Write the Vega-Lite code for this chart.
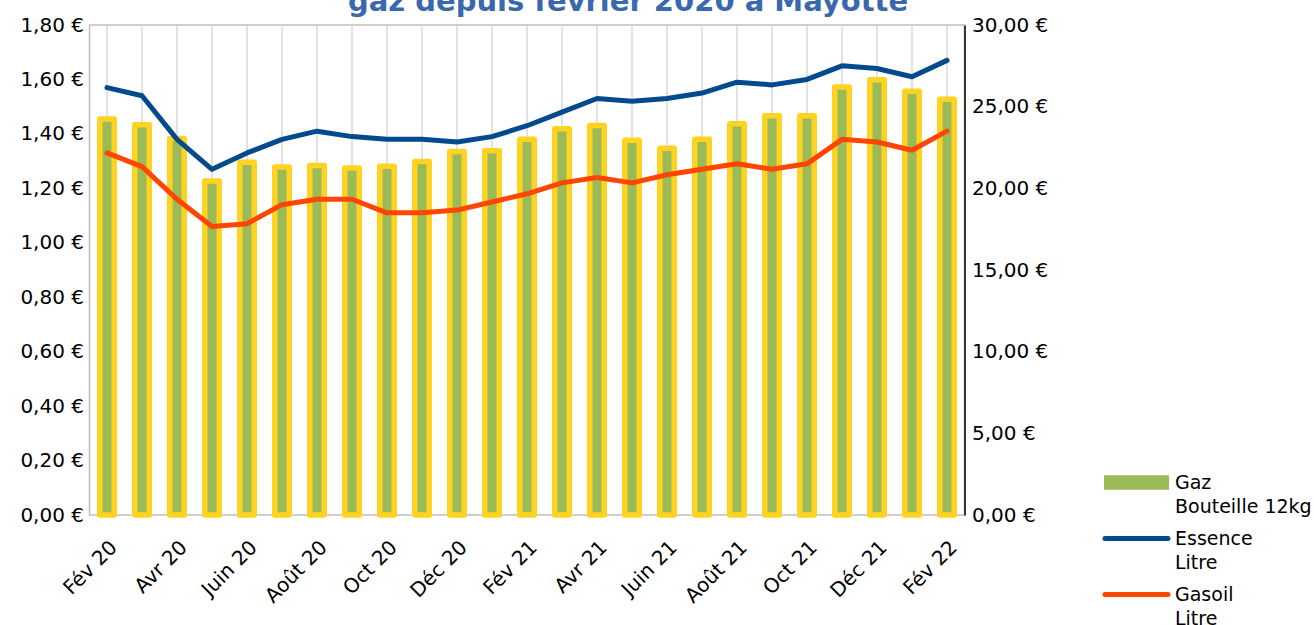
{
  "$schema": "https://vega.github.io/schema/vega-lite/v6.json",
  "width": 875,
  "height": 490,
  "autosize": {"type": "none"},
  "padding": {"left": 89.5, "top": 25, "right": 349.5, "bottom": 110},
  "background": "white",
  "title": {
    "text": "gaz depuis février 2020 à Mayotte",
    "font": "DejaVu Sans",
    "fontSize": 29,
    "fontWeight": "bold",
    "color": "#3A68AE",
    "anchor": "middle",
    "frame": "group",
    "dx": 101,
    "dy": 25,
    "offset": 0,
    "baseline": "alphabetic"
  },
  "config": {
    "view": {"stroke": "#bfbfbf", "strokeWidth": 1.5},
    "font": "DejaVu Sans",
    "axis": {"labelFont": "DejaVu Sans", "labelFontSize": 20, "labelColor": "#000000", "ticks": false, "title": null}
  },
  "data": {
    "values": [
      {"mois": "Fév 20", "Gaz": 24.25, "Essence": 1.57, "Gasoil": 1.33},
      {"mois": "Mars 20", "Gaz": 23.90, "Essence": 1.54, "Gasoil": 1.28},
      {"mois": "Avr 20", "Gaz": 23.05, "Essence": 1.38, "Gasoil": 1.16},
      {"mois": "Mai 20", "Gaz": 20.45, "Essence": 1.27, "Gasoil": 1.06},
      {"mois": "Juin 20", "Gaz": 21.60, "Essence": 1.33, "Gasoil": 1.07},
      {"mois": "Juil 20", "Gaz": 21.30, "Essence": 1.38, "Gasoil": 1.14},
      {"mois": "Août 20", "Gaz": 21.40, "Essence": 1.41, "Gasoil": 1.16},
      {"mois": "Sept 20", "Gaz": 21.25, "Essence": 1.39, "Gasoil": 1.16},
      {"mois": "Oct 20", "Gaz": 21.35, "Essence": 1.38, "Gasoil": 1.11},
      {"mois": "Nov 20", "Gaz": 21.65, "Essence": 1.38, "Gasoil": 1.11},
      {"mois": "Déc 20", "Gaz": 22.25, "Essence": 1.37, "Gasoil": 1.12},
      {"mois": "Janv 21", "Gaz": 22.30, "Essence": 1.39, "Gasoil": 1.15},
      {"mois": "Fév 21", "Gaz": 23.00, "Essence": 1.43, "Gasoil": 1.18},
      {"mois": "Mars 21", "Gaz": 23.65, "Essence": 1.48, "Gasoil": 1.22},
      {"mois": "Avr 21", "Gaz": 23.85, "Essence": 1.53, "Gasoil": 1.24},
      {"mois": "Mai 21", "Gaz": 22.95, "Essence": 1.52, "Gasoil": 1.22},
      {"mois": "Juin 21", "Gaz": 22.45, "Essence": 1.53, "Gasoil": 1.25},
      {"mois": "Juil 21", "Gaz": 23.00, "Essence": 1.55, "Gasoil": 1.27},
      {"mois": "Août 21", "Gaz": 23.95, "Essence": 1.59, "Gasoil": 1.29},
      {"mois": "Sept 21", "Gaz": 24.45, "Essence": 1.58, "Gasoil": 1.27},
      {"mois": "Oct 21", "Gaz": 24.45, "Essence": 1.60, "Gasoil": 1.29},
      {"mois": "Nov 21", "Gaz": 26.20, "Essence": 1.65, "Gasoil": 1.38},
      {"mois": "Déc 21", "Gaz": 26.65, "Essence": 1.64, "Gasoil": 1.37},
      {"mois": "Janv 22", "Gaz": 25.95, "Essence": 1.61, "Gasoil": 1.34},
      {"mois": "Fév 22", "Gaz": 25.45, "Essence": 1.67, "Gasoil": 1.41}
    ]
  },
  "encoding": {
    "x": {
      "field": "mois",
      "type": "nominal",
      "sort": null,
      "scale": {"paddingInner": 0, "paddingOuter": 0},
      "axis": {
        "bandPosition": 0.5,
        "grid": true,
        "gridColor": "#d9d9d9",
        "gridWidth": 1.5,
        "domain": false,
        "labelAngle": -45,
        "labelAlign": "right",
        "labelBaseline": "top",
        "labelPadding": 22,
        "labelOffset": 0,
        "labelExpr": "indexof(['Fév 20','Avr 20','Juin 20','Août 20','Oct 20','Déc 20','Fév 21','Avr 21','Juin 21','Août 21','Oct 21','Déc 21','Fév 22'], datum.value) >= 0 ? datum.value : ''"
      }
    }
  },
  "layer": [
    {
      "mark": {"type": "bar", "width": 14.5, "stroke": "#FFD320", "strokeWidth": 5.5, "strokeJoin": "round"},
      "encoding": {
        "y": {
          "field": "Gaz",
          "type": "quantitative",
          "scale": {"domain": [0, 30], "nice": false},
          "axis": {
            "orient": "right",
            "values": [0, 5, 10, 15, 20, 25, 30],
            "grid": false,
            "domain": true,
            "domainColor": "#000000",
            "domainWidth": 1.5,
            "labelPadding": 7,
            "labelExpr": "replace(format(datum.value, '.2f'), '.', ',') + ' €'"
          }
        },
        "color": {
          "datum": "Gaz",
          "type": "nominal",
          "scale": {"domain": ["Gaz", "Essence", "Gasoil"], "range": ["#9BBB59", "#004A8D", "#FF4500"]},
          "legend": {
            "orient": "none",
            "legendX": 1015.5,
            "legendY": 448,
            "title": null,
            "labelFont": "DejaVu Sans",
            "labelFontSize": 19,
            "labelColor": "#000000",
            "symbolSize": 3969,
            "symbolOffset": 22,
            "labelOffset": 29,
            "rowPadding": 11,
            "labelLimit": 300,
            "labelExpr": "datum.value === 'Gaz' ? ['Gaz', 'Bouteille 12kg'] : [datum.value, 'Litre']",
            "encode": {
              "symbols": {
                "update": {
                  "shape": {"signal": "datum.value === 'Gaz' ? 'M-1,-0.2H1V0.2H-1Z' : 'M-1,0H1'"},
                  "fill": {"signal": "datum.value === 'Gaz' ? '#9BBB59' : 'transparent'"},
                  "stroke": {"signal": "datum.value === 'Gaz' ? '#FFD320' : (datum.value === 'Essence' ? '#004A8D' : '#FF4500')"},
                  "strokeWidth": {"signal": "datum.value === 'Gaz' ? 2 : 5"},
                  "strokeCap": {"value": "round"},
                  "opacity": {"value": 1}
                }
              },
              "labels": {"update": {"lineHeight": {"value": 24}}}
            }
          }
        }
      }
    },
    {
      "transform": [{"fold": ["Essence", "Gasoil"], "as": ["serie", "prix"]}],
      "mark": {"type": "line", "strokeWidth": 5, "strokeJoin": "round", "strokeCap": "round"},
      "encoding": {
        "y": {
          "field": "prix",
          "type": "quantitative",
          "scale": {"domain": [0, 1.8], "nice": false},
          "axis": {
            "orient": "left",
            "values": [0, 0.2, 0.4, 0.6, 0.8, 1.0, 1.2, 1.4, 1.6, 1.8],
            "grid": false,
            "domain": false,
            "labelPadding": 6,
            "labelExpr": "replace(format(datum.value, '.2f'), '.', ',') + ' €'"
          }
        },
        "color": {
          "field": "serie",
          "type": "nominal",
          "legend": {
            "orient": "none",
            "legendX": 1015.5,
            "legendY": 448,
            "title": null,
            "labelFont": "DejaVu Sans",
            "labelFontSize": 19,
            "labelColor": "#000000",
            "symbolSize": 3969,
            "symbolOffset": 22,
            "labelOffset": 29,
            "rowPadding": 11,
            "labelLimit": 300,
            "labelExpr": "datum.value === 'Gaz' ? ['Gaz', 'Bouteille 12kg'] : [datum.value, 'Litre']",
            "encode": {
              "symbols": {
                "update": {
                  "shape": {"signal": "datum.value === 'Gaz' ? 'M-1,-0.2H1V0.2H-1Z' : 'M-1,0H1'"},
                  "fill": {"signal": "datum.value === 'Gaz' ? '#9BBB59' : 'transparent'"},
                  "stroke": {"signal": "datum.value === 'Gaz' ? '#FFD320' : (datum.value === 'Essence' ? '#004A8D' : '#FF4500')"},
                  "strokeWidth": {"signal": "datum.value === 'Gaz' ? 2 : 5"},
                  "strokeCap": {"value": "round"},
                  "opacity": {"value": 1}
                }
              },
              "labels": {"update": {"lineHeight": {"value": 24}}}
            }
          }
        }
      }
    }
  ],
  "resolve": {"scale": {"y": "independent"}}
}
